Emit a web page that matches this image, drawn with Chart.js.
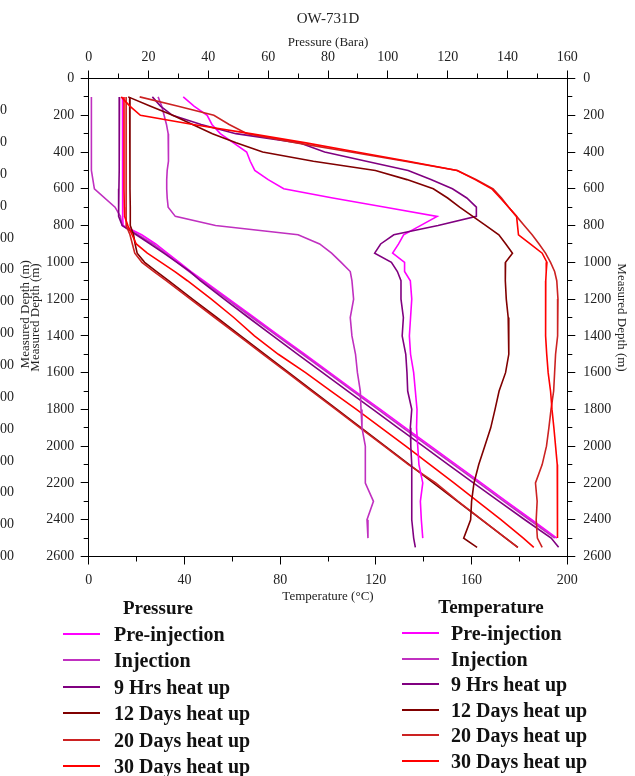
<!DOCTYPE html>
<html>
<head>
<meta charset="utf-8">
<title>OW-731D</title>
<script src="https://cdn.jsdelivr.net/npm/chart.js@4.4.1/dist/chart.umd.min.js"></script>
<style>
  html, body { margin: 0; padding: 0; background: #fff; }
  #wrap { position: relative; width: 635px; height: 776px; overflow: hidden; }
  #chart { position: absolute; left: 0; top: 0; }
  .lg { position: absolute; font-family: 'Liberation Serif', 'Times New Roman', serif; color: #111; white-space: nowrap; }
  .lg-head { font-weight: bold; font-size: 19px; transform: translate(-50%, -50%); }
  .lg-text { font-weight: bold; font-size: 20px; transform: translateY(-50%); }
  .lg-swatch { height: 2px; width: 37px; }
</style>
</head>
<body>
<div id="wrap">
  <canvas id="chart" width="635" height="776"></canvas>
  <div id="legendP"></div>
  <div id="legendT"></div>
</div>
<script>
// survey stages, same colours for pressure and temperature
var stages = ['Pre-injection', 'Injection', '9 Hrs heat up', '12 Days heat up', '20 Days heat up', '30 Days heat up'];
var stageColors = ['#ff00ff', '#c030c0', '#800080', '#800000', '#cc2222', '#ff0000'];

// temperature profiles (deg C) against measured depth (m)
var tempDepth = [100, 150, 200, 250, 300, 350, 400, 450, 500, 550, 600, 650, 700, 750, 800, 850, 900, 950, 1000, 1050,
                 1100, 1200, 1300, 1400, 1500, 1600, 1700, 1800, 1900, 2000, 2100, 2200, 2300, 2400, 2500, 2550];
var tempPre = [39.5, 44, 49.5, 51.5, 55, 60.5, 66, 67.5, 69.4, 75, 81.5, 102, 124, 145.6, 138.6, 131.6, 129.5, 127, 132, 132,
               134.4, 135, 134.5, 134, 134.5, 135.8, 136.5, 137.2, 137, 137.5, 138, 139.6, 138.6, 139, 139.6, null];
var tempInj = [29, 30.5, 31.5, 32.5, 33.2, 33.4, 33.4, 33.2, 32.8, 32.6, 32.6, 32.8, 33.2, 36.2, 53, 87.5, 96.5, 101.5, 105.5, 109.3,
               110, 110.7, 109.3, 110, 111.5, 112.3, 113.5, 113.8, 114.2, 115.6, 115.6, 115.6, 119, 116.3, 116.7, null];
var temp9h = [26.6, 30, 35, 47, 61.5, 88, 98.6, 116, 133.5, 143, 152, 158, 162, 162, 146, 127.5, 122, 119.5, 126.5, 129,
              130.5, 130.5, 131.5, 131, 132.5, 133, 133.3, 135, 134.4, 134.6, 135, 135, 135, 135, 135.8, 136.5];
var temp12d = [16.5, 25.6, 35.1, 43.4, 51.7, 61.6, 72.7, 93.9, 119.8, 133, 144, 150, 155, 160.5, 166, 171.4, 174.3, 177.1, 174.2, 174,
               174.2, 174.5, 175.3, 175.5, 175.6, 174.2, 171.5, 169.8, 168, 165.5, 163, 161, 160, 159.6, 156.7, 162.3];
var temp20d = [21.3, 37, 52.3, 58.7, 66.2, 86.9, 109.5, 132.2, 154, 162, 169, 172.5, 175.5, 178.8, 182, 185.3, 188.2, 190.9, 193, 194.7,
               195.6, 196.1, 196, 195.9, 195.1, 194.7, 194.3, 193.2, 192.3, 191.3, 189.5, 186.7, 187.4, 187, 187.5, 189.5];
var temp30d = [13.6, 17.2, 21.6, 43.6, 67.6, 90.8, 112, 133.5, 154, 161.5, 168.4, 172, 175.5, 178.8, 179.2, 179.6, 184.5, 189.5, 191.5, 191.2,
               191, 191, 190.9, 190.9, 191.4, 192, 193, 193.6, 194.4, 195.1, 195.8, 196, 196, 195.8, 195.8, null];

// pressure profiles (bara) against measured depth (m)
var presDepth = [100, 500, 600, 700, 750, 800, 850, 900, 950, 1000, 1050, 1100, 1200, 1300, 1400, 1500, 1600, 1700,
                 1800, 1900, 2000, 2100, 2200, 2300, 2400, 2500, 2550];
var presPre = [11.3, 11.3, 11.3, 11.4, 11.4, 11.5, 17.7, 22.4, 26.3, 30.3, 34.2, 38.4, 46.9, 55.3, 63.7, 72.2, 80.6, 89,
               97.5, 105.9, 114.3, 122.8, 131.2, 139.6, 148.1, 156.5, null];
var presInj = [0.9, 0.9, 1.9, 8.8, 10.6, 11.2, 16.5, 21.5, 25.6, 29.6, 33.6, 37.8, 46.2, 54.6, 63, 71.5, 79.9, 88.3,
               96.7, 105.1, 113.5, 122, 130.4, 138.8, 147.3, 155.8, null];
var pres9h = [10.3, 10.2, 10.1, 10, 10, 11.2, 15.9, 20.6, 25.1, 29.5, 33.9, 37.3, 45.3, 53.4, 61.6, 69.9, 78.2, 86.6,
              95, 103.4, 111.8, 120.2, 128.6, 137.2, 145.8, 154.6, 157.1];
var pres12d = [13.7, 13.8, 13.8, 13.9, 13.9, 13.9, 15, 15.5, 16.2, 18.7, 22.7, 26.7, 34.7, 42.8, 50.8, 58.9, 66.9, 75,
               83, 91.1, 99.1, 107.2, 115.2, 123.3, 131.3, 139.4, 143.5];
var pres20d = [12.5, 12.5, 12.5, 12.5, 12.5, 12.6, 13.8, 14.6, 15.4, 17.8, 21.8, 25.9, 34, 42.1, 50.2, 58.3, 66.4, 74.5,
               82.6, 90.7, 98.8, 106.9, 116, 123.5, 131.4, 139.4, 143.4];
var pres30d = [11.8, 11.8, 11.8, 11.9, 12, 13.1, 14.5, 15.9, 19.6, 24.2, 28.8, 33, 41, 48.5, 55.4, 63.4, 72.5, 81,
               89.5, 97.8, 106, 114.1, 122.1, 130, 137.8, 145.3, 148.8];

var presSeries = [presPre, presInj, pres9h, pres12d, pres20d, pres30d];
var tempSeries = [tempPre, tempInj, temp9h, temp12d, temp20d, temp30d];

var serif = "'Liberation Serif', 'Times New Roman', serif";

function toPoints(depths, values) {
  var pts = [];
  for (var i = 0; i < depths.length; i++) {
    if (values[i] === null) continue;
    pts.push({ x: values[i], y: depths[i] });
  }
  return pts;
}

var datasets = [];
var n = 0;
presSeries.forEach(function (vals, i) {
  datasets.push({
    label: stages[i], group: 'Pressure', data: toPoints(presDepth, vals),
    xAxisID: 'xP', yAxisID: 'y', borderColor: stageColors[i], backgroundColor: stageColors[i],
    borderWidth: 1.6, pointRadius: 0, showLine: true, fill: false, order: 20 - n++
  });
});
tempSeries.forEach(function (vals, i) {
  datasets.push({
    label: stages[i], group: 'Temperature', data: toPoints(tempDepth, vals),
    xAxisID: 'xT', yAxisID: 'y', borderColor: stageColors[i], backgroundColor: stageColors[i],
    borderWidth: 1.6, pointRadius: 0, showLine: true, fill: false, order: 20 - n++
  });
});

// short ticks between the labelled ones, as a zero-size axis next to the main one
function minorAxis(pos, min, max, step, rev) {
  var horiz = (pos === 'top' || pos === 'bottom');
  return {
    type: 'linear', position: pos, min: min, max: max, reverse: !!rev, weight: 0,
    ticks: { stepSize: step, display: false },
    grid: { drawOnChartArea: false, drawTicks: true, tickLength: 5, color: '#000', lineWidth: 1 },
    border: { display: false },
    afterFit: function (s) { if (horiz) s.height = 0; else s.width = 0; }
  };
}

// plain numbers, no thousands separator
function plain(v) { return String(v); }

function tickFont() { return { family: serif, size: 14 }; }

// HTML legend, one block per quantity
var legendLayout = {
  Pressure:    { el: 'legendP', headX: 158, headY: 608, swatchX: 63,  textX: 114, rowY: 634, gap: 26.4 },
  Temperature: { el: 'legendT', headX: 491, headY: 607, swatchX: 402, textX: 451, rowY: 633, gap: 25.6 }
};

function buildLegend(chart, group) {
  var cfg = legendLayout[group];
  var box = document.getElementById(cfg.el);
  box.innerHTML = '';
  var head = document.createElement('div');
  head.className = 'lg lg-head';
  head.style.left = cfg.headX + 'px';
  head.style.top = cfg.headY + 'px';
  head.textContent = group;
  box.appendChild(head);
  var row = 0;
  chart.data.datasets.forEach(function (ds) {
    if (ds.group !== group) return;
    var y = cfg.rowY + row * cfg.gap;
    var sw = document.createElement('div');
    sw.className = 'lg lg-swatch';
    sw.style.left = cfg.swatchX + 'px';
    sw.style.top = (y - 1) + 'px';
    sw.style.background = ds.borderColor;
    box.appendChild(sw);
    var tx = document.createElement('div');
    tx.className = 'lg lg-text';
    tx.style.left = cfg.textX + 'px';
    tx.style.top = y + 'px';
    tx.textContent = ds.label;
    box.appendChild(tx);
    row++;
  });
}

var htmlLegend = {
  id: 'htmlLegend',
  afterUpdate: function (chart) {
    buildLegend(chart, 'Pressure');
    buildLegend(chart, 'Temperature');
  }
};

var ctx = document.getElementById('chart').getContext('2d');
var myChart = new Chart(ctx, {
  type: 'scatter',
  data: { datasets: datasets },
  plugins: [htmlLegend],
  options: {
    responsive: false,
    animation: false,
    layout: { padding: { left: -14, top: 0, right: 0, bottom: 171.5 } },
    plugins: {
      legend: { display: false },
      tooltip: { enabled: false },
      title: {
        display: true, text: 'OW-731D', fullSize: false, color: '#222',
        font: { family: serif, size: 15, weight: 'normal' }, padding: { top: 10, bottom: 0 }
      }
    },
    scales: {
      xT: {
        type: 'linear', position: 'bottom', min: 0, max: 200, weight: 1,
        ticks: { stepSize: 40, padding: 7, color: '#222', font: tickFont(), maxRotation: 0, callback: plain },
        grid: { drawOnChartArea: false, tickLength: 8, color: '#000' },
        border: { color: '#000', width: 1 },
        title: { display: true, text: 'Temperature (°C)', color: '#222', font: { family: serif, size: 13 }, padding: { top: 0, bottom: 0 } },
        afterFit: function (s) { s.height = 48; }
      },
      xP: {
        type: 'linear', position: 'top', min: 0, max: 160, weight: 1,
        ticks: { stepSize: 20, padding: 5, color: '#222', font: tickFont(), maxRotation: 0, callback: plain },
        grid: { drawOnChartArea: false, tickLength: 8, color: '#000' },
        border: { color: '#000', width: 1 },
        title: { display: true, text: 'Pressure (Bara)', color: '#222', font: { family: serif, size: 13 }, padding: { top: 7, bottom: 0 } },
        afterFit: function (s) { s.height = 50.5; }
      },
      y: {
        type: 'linear', position: 'left', min: 0, max: 2600, reverse: true, weight: 1,
        ticks: { stepSize: 200, padding: 6.5, color: '#222', font: tickFont(), callback: plain },
        grid: { drawOnChartArea: false, tickLength: 8, color: '#000' },
        border: { color: '#000', width: 1 },
        title: { display: true, text: 'Measured Depth (m)', color: '#222', font: { family: serif, size: 13 }, padding: { top: 1.5, bottom: 0 } },
        afterFit: function (s) { s.width = 62; }
      },
      yR: {
        type: 'linear', position: 'right', min: 0, max: 2600, reverse: true, weight: 1,
        ticks: { stepSize: 200, padding: 8, color: '#222', font: tickFont(), callback: plain },
        grid: { drawOnChartArea: false, tickLength: 8, color: '#000' },
        border: { color: '#000', width: 1 },
        title: { display: true, text: 'Measured Depth (m)', color: '#222', font: { family: serif, size: 13 }, padding: { top: 5.5, bottom: 0 } },
        afterFit: function (s) { s.width = 67.7; }
      },
      // second copy of the depth axis that sits mostly off the left edge
      yG: {
        type: 'linear', position: 'left', min: 0, max: 3000, reverse: true, weight: 2,
        ticks: { stepSize: 200, crossAlign: 'far', color: '#222', font: tickFont(), callback: plain },
        grid: { display: false },
        border: { display: false },
        title: { display: true, text: '  Measured Depth (m)', color: '#222', font: { family: serif, size: 13 }, padding: { top: 31.7, bottom: 0 } },
        afterFit: function (s) { s.width = 40.7; }
      },
      xTm: minorAxis('bottom', 0, 200, 20),
      xPm: minorAxis('top', 0, 160, 10),
      yLm: minorAxis('left', 0, 2600, 100, true),
      yRm: minorAxis('right', 0, 2600, 100, true)
    }
  }
});
</script>
</body>
</html>
